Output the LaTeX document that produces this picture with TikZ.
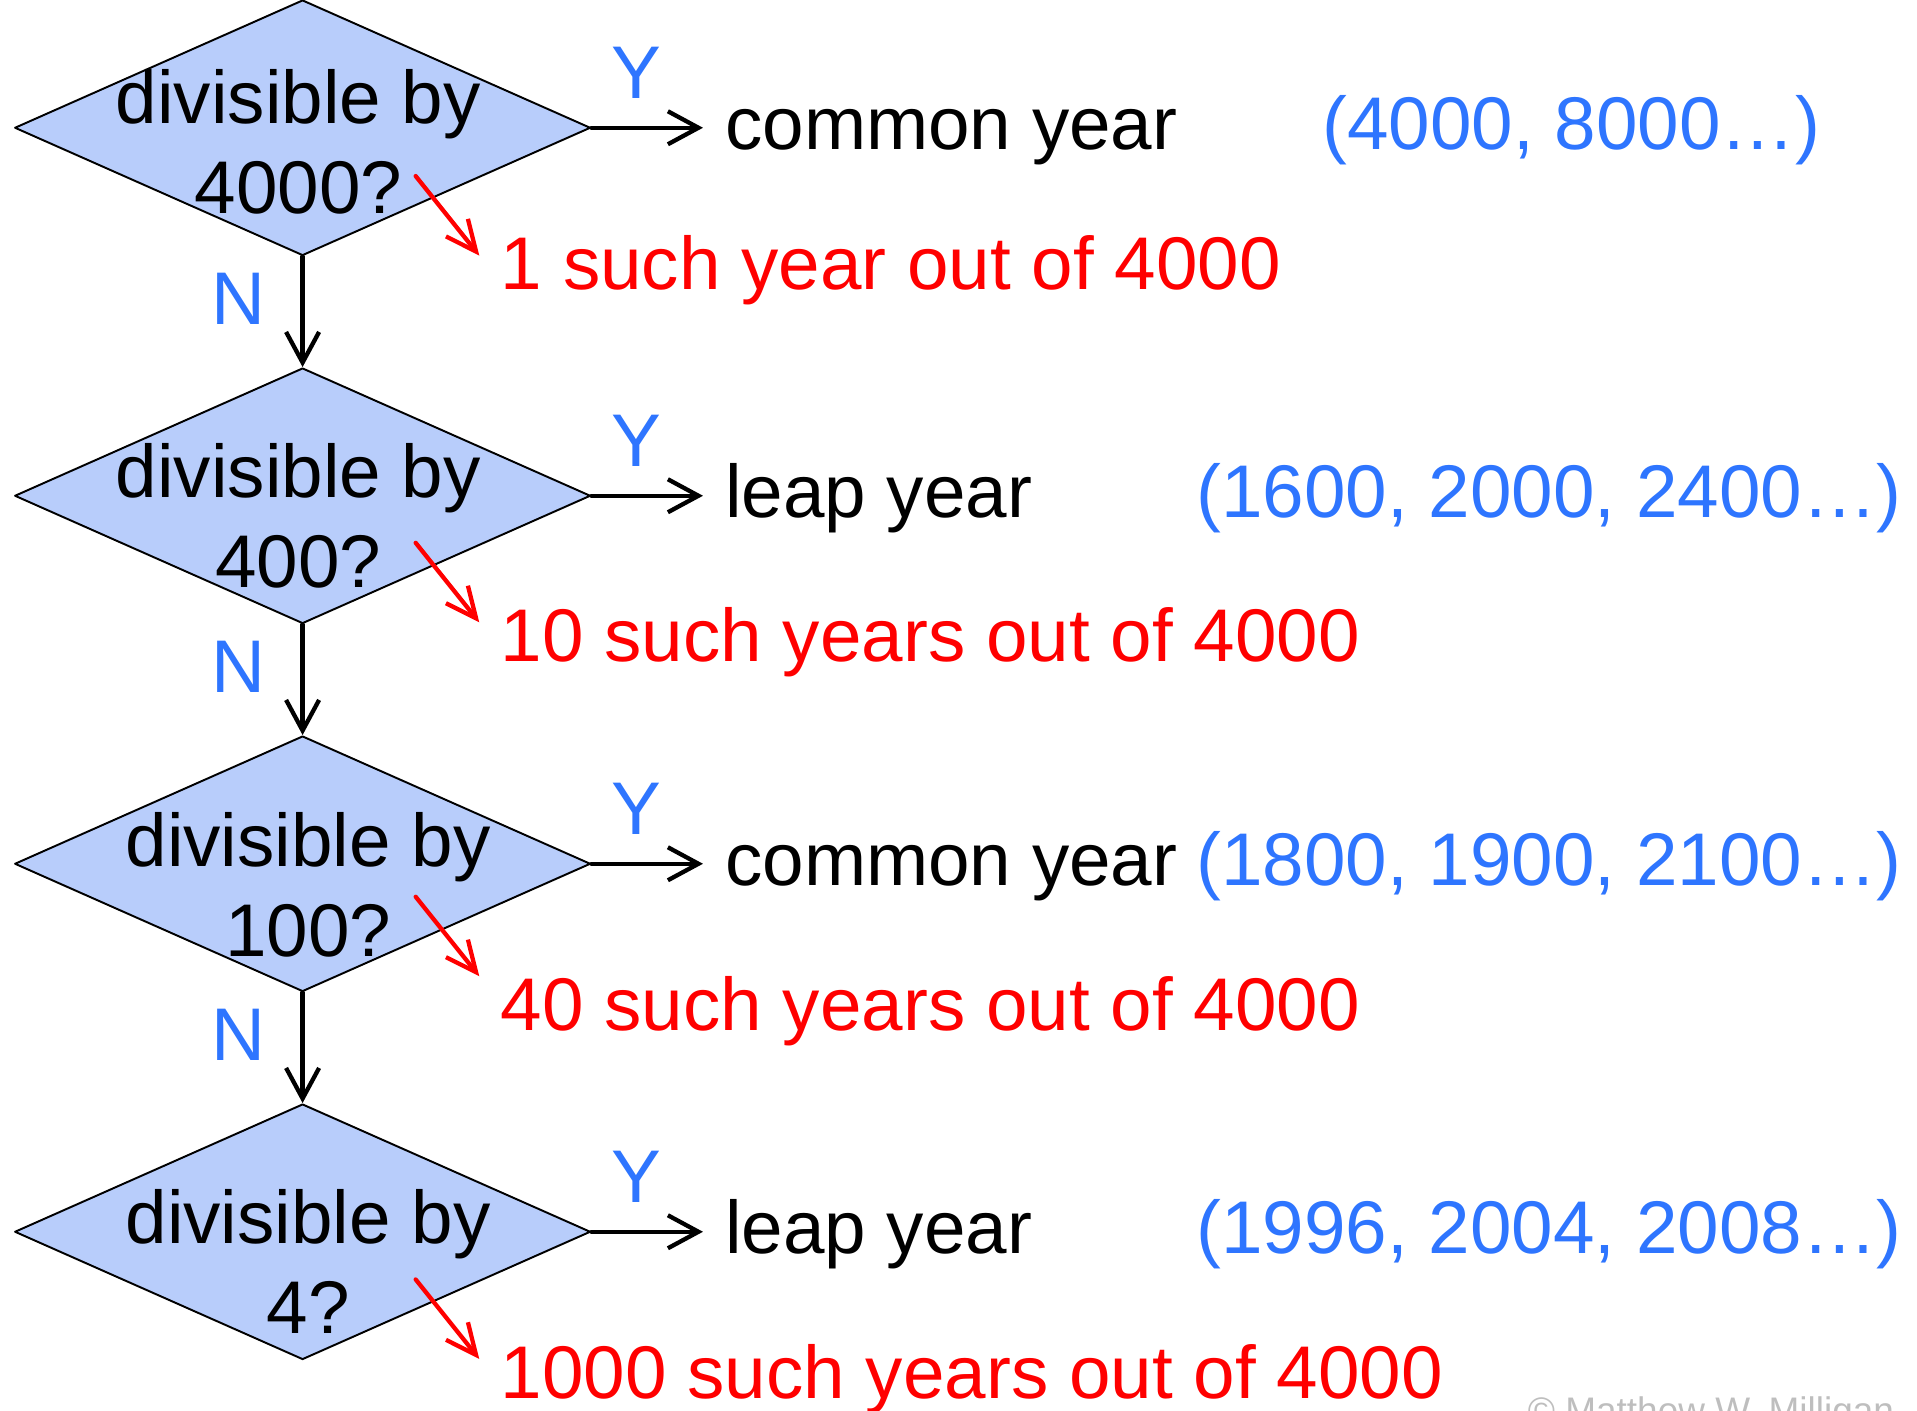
\documentclass[tikz,border=0pt]{standalone}
\usepackage{fontspec}
\setmainfont{Liberation Sans}
\usetikzlibrary{shapes.geometric,arrows.meta}
\definecolor{condfill}{RGB}{184,205,251}
\definecolor{ynblue}{RGB}{46,117,255}
\definecolor{cntred}{RGB}{255,0,0}
\definecolor{copygray}{RGB}{190,190,190}
\newcommand\bigtxt{\fontsize{17.37pt}{20.9pt}\selectfont}

\begin{document}
\begin{tikzpicture}[line cap=round,line join=round,
  every node/.style={inner sep=0pt,font=\bigtxt},
  cond/.style={diamond,draw,fill=condfill,line width=0.45pt,minimum width=4.71cm,minimum height=2.09cm},
  qtext/.style={anchor=base,align=center},
  result/.style={anchor=west,inner xsep=0.175cm,text height=0.47cm,text depth=0.12cm},
  yrs/.style={anchor=base west,text=ynblue},
  cnt/.style={anchor=base west,text=cntred},
  ybranch/.style={above=0.22cm,pos=0.4,text=ynblue},
  nbranch/.style={left=0.29cm,pos=0.38,text=ynblue},
  arr/.style={-{Straight Barb[length=0.25cm,width=0.27cm]},line width=1pt},
  redarr/.style={-{Straight Barb[length=0.25cm,width=0.23cm]},line width=1pt,cntred}]
  \useasboundingbox (0,0) rectangle (15.68,-11.54);
  \clip (0,0) rectangle (15.68,-11.54);
  % one row per test
  \foreach \i/\num/\res/\yrs/\yx/\cnt/\qx/\qa/\sa/\cb in {
    1/4000/common year/{(4000, 8000…)}/10.81/1 such year out of 4000/2.44/0.70/0.395/1.325,
    2/400/leap year/{(1600, 2000, 2400…)}/9.78/10 such years out of 4000/2.44/0.75/0.385/1.358,
    3/100/common year/{(1800, 1900, 2100…)}/9.78/40 such years out of 4000/2.52/0.755/0.27/1.36,
    4/4/leap year/{(1996, 2004, 2008…)}/9.78/1000 such years out of 4000/2.52/0.83/0.39/1.365} {
    \pgfmathsetmacro\yc{-1.045-3.01*(\i-1)}
    \node[cond] (d\i) at (2.475,\yc) {};
    \node[qtext] (q\i) at ({\qx},{\yc-\qa}) {divisible by\\\num?};
    \node[result] (r\i) at ({5.75},{\yc}) {\res};
    \draw[arr] (d\i.east) -- node[ybranch] {Y} (r\i.west);
    \node[yrs] (y\i) at ({\yx},{\yc-0.175}) {\yrs};
    \coordinate (s\i) at ({3.40},{\yc-\sa});
    \coordinate (t\i) at ({3.92},{\yc-\sa-0.65});
    \draw[redarr] (s\i) -- (t\i);
    \node[cnt] (c\i) at ({4.09},{\yc-\cb}) {\cnt};
  }
  \foreach \i [count=\j from 2] in {1,2,3}
    \draw[arr] (d\i.south) -- node[nbranch] {N} (d\j.north);
  \node[anchor=base west,font=\fontsize{8.6pt}{10pt}\selectfont,text=copygray] (copy) at (12.49,-11.64) {© Matthew W. Milligan};
\end{tikzpicture}
\end{document}
